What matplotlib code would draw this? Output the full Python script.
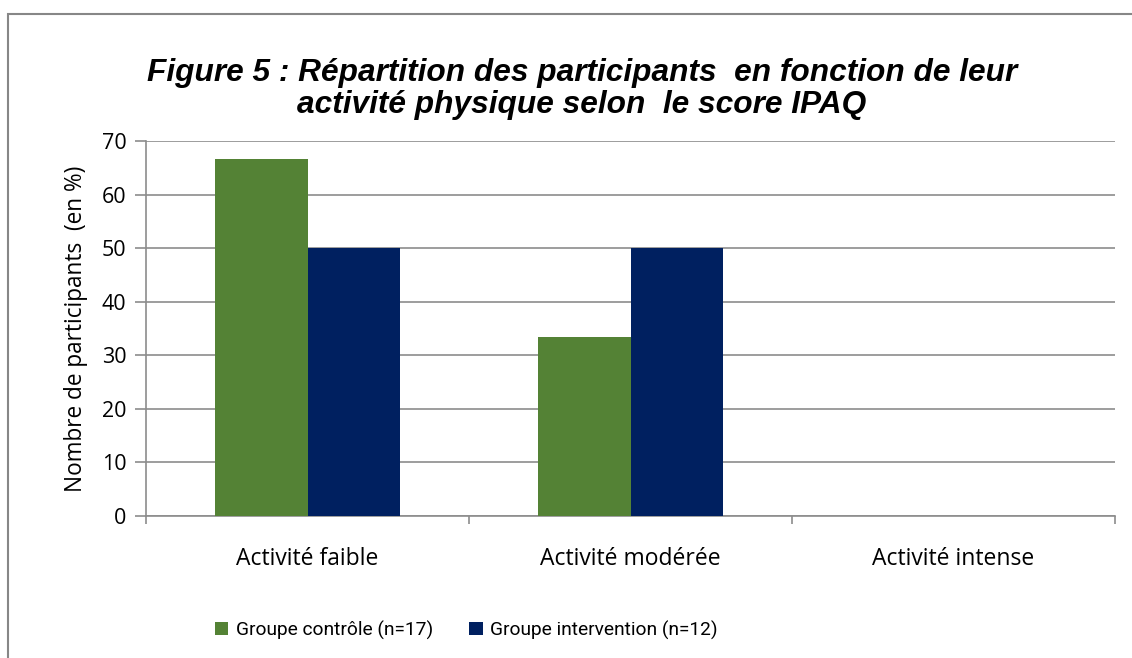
import numpy as np
import matplotlib.pyplot as plt
from matplotlib.patches import Rectangle

categories = ["Activité faible", "Activité modérée", "Activité intense"]
controle = [66.67, 33.33, 0]
intervention = [50, 50, 0]
series_names = ["Groupe contrôle (n=17)", "Groupe intervention (n=12)"]
yticks = [0, 10, 20, 30, 40, 50, 60, 70]

green = "#548235"
navy = "#002060"
gridc = "#8c8c8c"

plt.rcParams['font.family'] = ['Open Sans', 'DejaVu Sans']

fig = plt.figure(figsize=(11.32, 6.58), dpi=100)
W, H = 1132, 658
ax = fig.add_axes([146 / W, 1 - 516 / H, (1115 - 146) / W, (516 - 141) / H])

# outer chart border
fig.patches.append(Rectangle((8 / W, -0.1), 1.2, 1 - 14 / H + 0.1, transform=fig.transFigure,
                             fill=False, edgecolor="#878787", linewidth=1.5))

x = np.arange(len(categories))
bw = 0.285
ax.bar(x - bw / 2, controle, bw, color=green, label=series_names[0], zorder=3)
ax.bar(x + bw / 2, intervention, bw, color=navy, label=series_names[1], zorder=3)

ax.set_xlim(-0.5, len(categories) - 0.5)
ax.set_ylim(0, 70)
ax.set_yticks(yticks)
ax.yaxis.grid(True, color=gridc, linewidth=1.2, zorder=0)
ax.set_xticks(x)
ax.set_xticklabels(categories, fontsize=16.5)
ax.tick_params(axis='x', length=0, pad=22)
ax.set_xticks(np.arange(-0.5, len(categories)), minor=True)
ax.tick_params(axis='x', which='minor', length=6, color=gridc, width=1.2)
ax.tick_params(axis='y', length=8, color=gridc, width=1.2, labelsize=15.5, pad=6)

for s in ["top", "right"]:
    ax.spines[s].set_visible(False)
ax.spines["left"].set_color(gridc)
ax.spines["bottom"].set_color(gridc)
ax.spines["left"].set_linewidth(1.2)
ax.spines["bottom"].set_linewidth(1.2)

ax.set_ylabel("Nombre de participants  (en %)", fontsize=16.3, labelpad=10)

fig.text(0.514, 1 - 89 / H, "Figure 5 : Répartition des participants  en fonction de leur\nactivité physique selon  le score IPAQ",
         ha="center", va="center", fontsize=22.8, fontweight="bold", fontstyle="italic",
         family=["Liberation Sans", "DejaVu Sans"], linespacing=1.1)

fig.legend(loc="center", bbox_to_anchor=(0.412, 1 - 630 / H), ncol=2, frameon=False,
           prop={"family": ["Roboto", "DejaVu Sans"], "size": 13.8},
           handlelength=0.7, handleheight=0.7, handletextpad=0.4, columnspacing=1.9)

fig.savefig("out.png", dpi=100)
